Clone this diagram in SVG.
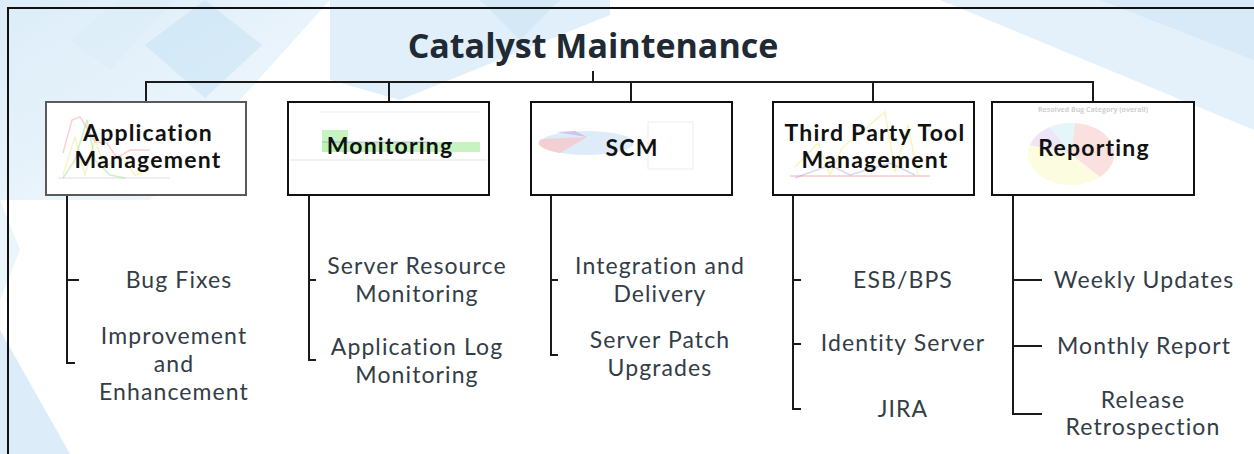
<svg xmlns="http://www.w3.org/2000/svg" width="1254" height="454" viewBox="0 0 1254 454">
<defs>
<style>
.box{fill:#ffffff;stroke:#111;stroke-width:2}
.hd{font-family:Lato,"Open Sans","Liberation Sans",sans-serif;font-weight:bold;font-size:23px;letter-spacing:1.2px;fill:#111;text-anchor:middle}
.it{font-family:Lato,"Open Sans","Liberation Sans",sans-serif;font-size:23px;letter-spacing:1.1px;fill:#333d47;text-anchor:middle}
.cn{fill:none;stroke:#1a1a1a;stroke-width:2}
.ch{fill:none;stroke-width:1.5;opacity:0.35}
</style>
<linearGradient id="bgL" x1="0" y1="0" x2="1" y2="1">
<stop offset="0" stop-color="#d3e8f7"/>
<stop offset="1" stop-color="#f1f8fd"/>
</linearGradient>
</defs>
<rect x="0" y="0" width="1254" height="454" fill="#ffffff"/>
<g id="background">
<polygon points="0,0 330,0 150,200 0,200" fill="url(#bgL)" opacity="0.8"/>
<polygon points="205,0 262,45 205,98 145,45" fill="#c6e1f4" opacity="0.55"/>
<polygon points="120,0 175,0 110,70 70,40" fill="#dcedf9" opacity="0.6"/>
<polygon points="330,0 610,0 610,15 400,100 330,80" fill="#d3e8f7" opacity="0.7"/>
<polygon points="480,0 560,0 520,40" fill="#c2def3" opacity="0.4"/>
<polygon points="940,0 1254,0 1254,130" fill="#d8ebf9" opacity="0.7"/>
<polygon points="1100,0 1254,0 1254,60" fill="#cbe4f6" opacity="0.5"/>
<polygon points="0,330 70,454 0,454" fill="#d3e8f7" opacity="0.8"/>
<polygon points="0,200 20,250 0,300" fill="#e6f2fb" opacity="0.8"/>
</g>
<g id="frame" fill="none" stroke="#111" stroke-width="2">
<polyline points="8,454 8,8 1254,8"/>
</g>
<g id="title">
<text x="593" y="58" font-family="'Open Sans','Liberation Sans',sans-serif" font-weight="bold" font-size="34" fill="#1f2a35" text-anchor="middle">Catalyst Maintenance</text>
</g>
<g id="connectors">
<line class="cn" x1="593" y1="71" x2="593" y2="82"/>
<polyline class="cn" points="146,102 146,82 1093,82 1093,102"/>
<line class="cn" x1="389" y1="82" x2="389" y2="102"/>
<line class="cn" x1="631" y1="82" x2="631" y2="102"/>
<line class="cn" x1="873" y1="82" x2="873" y2="102"/>
<polyline class="cn" points="67,195 67,363 75,363"/>
<line class="cn" x1="67" y1="280" x2="79" y2="280"/>
<polyline class="cn" points="309,195 309,360 316,360"/>
<line class="cn" x1="309" y1="280" x2="316" y2="280"/>
<polyline class="cn" points="551,195 551,355 558,355"/>
<line class="cn" x1="551" y1="280" x2="558" y2="280"/>
<polyline class="cn" points="793,195 793,409 801,409"/>
<line class="cn" x1="793" y1="280" x2="801" y2="280"/>
<line class="cn" x1="793" y1="344" x2="801" y2="344"/>
<polyline class="cn" points="1013,195 1013,414 1042,414"/>
<line class="cn" x1="1013" y1="280" x2="1042" y2="280"/>
<line class="cn" x1="1013" y1="346" x2="1042" y2="346"/>
</g>
<g id="node-application-management">
<rect class="box" x="46" y="102" width="200" height="93" style="stroke:#5a5a5a"/>
<g opacity="0.9">
<line x1="58" y1="178" x2="170" y2="178" stroke="#ddd" stroke-width="1"/>
<polyline class="ch" stroke="#f07070" points="63,153 72,120 80,117 87,128 95,142 107,143 117,158 130,150 150,150"/>
<polyline class="ch" stroke="#e8e040" points="63,175 75,137 85,175 95,140 105,168 120,155 135,175 150,170"/>
<polyline class="ch" stroke="#60d060" points="63,178 75,160 87,120 95,160 110,175 125,178"/>
</g>
<text class="hd" x="148" y="141">Application</text>
<text class="hd" x="148" y="168">Management</text>
</g>
<g id="node-monitoring">
<rect class="box" x="288" y="102" width="201" height="93"/>
<rect x="322" y="130" width="26" height="22" fill="#b8f0b0" opacity="0.8"/>
<rect x="322" y="142" width="158" height="10" fill="#b8f0b0" opacity="0.8"/>
<line x1="322" y1="142" x2="430" y2="142" stroke="#9090e0" stroke-width="1" opacity="0.6"/>
<line x1="290" y1="160" x2="487" y2="160" stroke="#e5e5e5" stroke-width="1"/>
<line x1="320" y1="112" x2="480" y2="112" stroke="#eee" stroke-width="1"/>
<text class="hd" x="390" y="154">Monitoring</text>
</g>
<g id="node-scm">
<rect class="box" x="531" y="102" width="201" height="93"/>
<ellipse cx="587" cy="143" rx="47" ry="12" fill="#d6e6f8" opacity="0.8"/>
<path d="M587,137 L541,139 A47,12 0 0,0 560,153 Z" fill="#f6c8c8" opacity="0.8"/>
<path d="M587,137 L556,132 L575,131 Z" fill="#c8b8f0" opacity="0.8"/>
<rect x="648" y="122" width="45" height="47" fill="none" stroke="#eee" stroke-width="1"/>
<text class="hd" x="632" y="156">SCM</text>
</g>
<g id="node-third-party-tool-management">
<rect class="box" x="773" y="102" width="201" height="93"/>
<line x1="790" y1="176" x2="930" y2="176" stroke="#f3b0b0" stroke-width="1"/>
<polyline class="ch" stroke="#e8e040" points="795,167 818,143 830,175 842,148 885,112 895,172 908,125 918,175"/>
<polyline class="ch" stroke="#9090e0" points="795,178 830,165 850,175 890,163 915,175"/>
<text class="hd" x="875" y="141">Third Party Tool</text>
<text class="hd" x="875" y="168">Management</text>
</g>
<g id="node-reporting">
<rect class="box" x="992" y="102" width="202" height="93"/>
<text x="1093" y="112" font-family="'Open Sans','Liberation Sans',sans-serif" font-weight="bold" font-size="7" fill="#cfcfcf" text-anchor="middle">Resolved Bug Category (overall)</text>
<g opacity="0.55">
<ellipse cx="1071" cy="154" rx="43" ry="31" fill="#fafac8"/>
<path d="M1071,154 L1075,123 A43,31 0 0,1 1100,177 Z" fill="#f8c8c8"/>
<path d="M1071,154 L1030,145 A43,31 0 0,1 1050,127 Z" fill="#e0d0f4"/>
<path d="M1071,154 L1050,127 A43,31 0 0,1 1075,123 Z" fill="#d0f0f8"/>
</g>
<text class="hd" x="1094" y="156">Reporting</text>
</g>
<g id="items-application-management">
<text class="it" x="179" y="288">Bug Fixes</text>
<text class="it" x="174" y="344">Improvement</text>
<text class="it" x="174" y="372">and</text>
<text class="it" x="174" y="400">Enhancement</text>
</g>
<g id="items-monitoring">
<text class="it" x="417" y="274">Server Resource</text>
<text class="it" x="417" y="302">Monitoring</text>
<text class="it" x="417" y="355">Application Log</text>
<text class="it" x="417" y="383">Monitoring</text>
</g>
<g id="items-scm">
<text class="it" x="660" y="274">Integration and</text>
<text class="it" x="660" y="302">Delivery</text>
<text class="it" x="660" y="348">Server Patch</text>
<text class="it" x="660" y="376">Upgrades</text>
</g>
<g id="items-third-party">
<text class="it" x="903" y="288">ESB/BPS</text>
<text class="it" x="903" y="351">Identity Server</text>
<text class="it" x="903" y="417">JIRA</text>
</g>
<g id="items-reporting">
<text class="it" x="1144" y="288">Weekly Updates</text>
<text class="it" x="1144" y="354">Monthly Report</text>
<text class="it" x="1143" y="408">Release</text>
<text class="it" x="1143" y="435">Retrospection</text>
</g>
</svg>
